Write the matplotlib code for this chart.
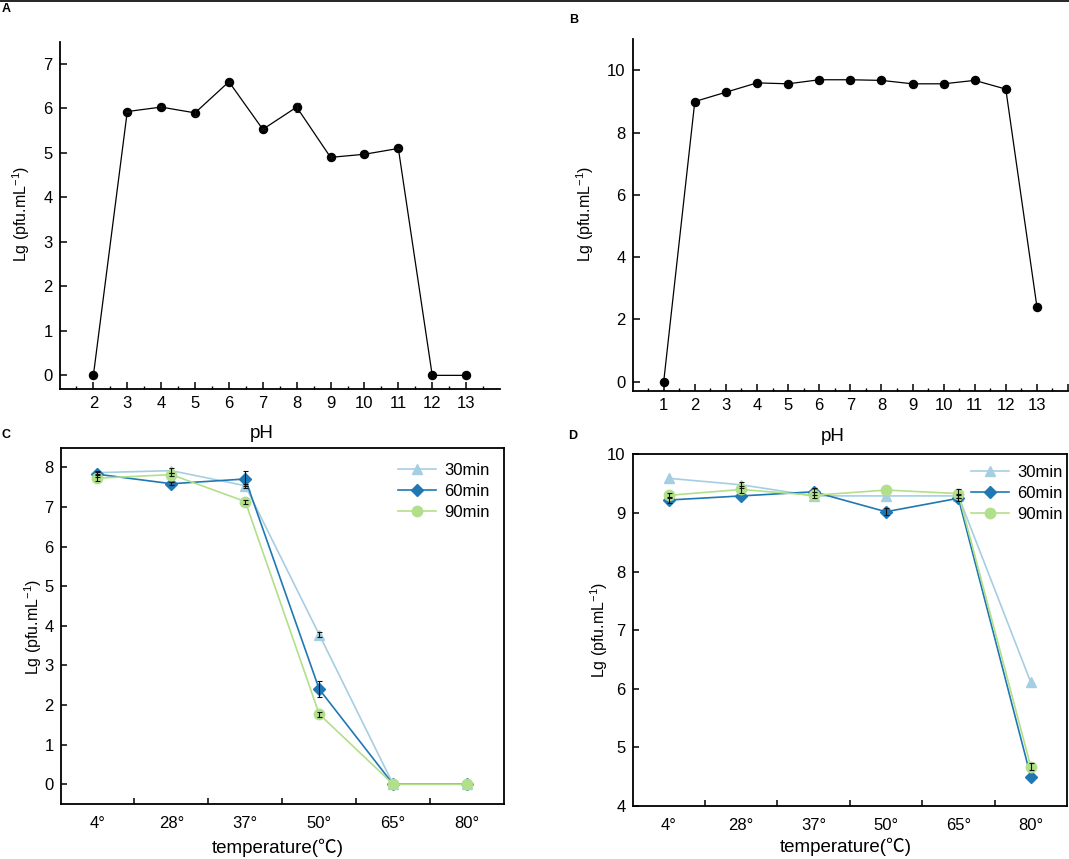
import numpy as np
import matplotlib
matplotlib.use('Agg')
import matplotlib.pyplot as plt
from matplotlib.lines import Line2D

plt.rcParams['font.family'] = ['Liberation Sans', 'DejaVu Sans']
plt.rcParams['mathtext.fontset'] = 'custom'
plt.rcParams['mathtext.rm'] = 'Liberation Sans'
plt.rcParams['mathtext.it'] = 'Liberation Sans:italic'
plt.rcParams['mathtext.bf'] = 'Liberation Sans:bold'

# ---------------- data ----------------
ph_a = [2, 3, 4, 5, 6, 7, 8, 9, 10, 11, 12, 13]
lg_a = [0, 5.93, 6.03, 5.90, 6.60, 5.53, 6.03, 4.90, 4.97, 5.10, 0, 0]
err_a = [0, 0.02, 0.02, 0.08, 0.02, 0.02, 0.10, 0.02, 0.02, 0.02, 0, 0]

ph_b = [1, 2, 3, 4, 5, 6, 7, 8, 9, 10, 11, 12, 13]
lg_b = [0, 9.00, 9.30, 9.60, 9.57, 9.70, 9.70, 9.68, 9.57, 9.57, 9.68, 9.40, 2.41]

temps = ['4°', '28°', '37°', '50°', '65°', '80°']
series_names = ['30min', '60min', '90min']

c_30 = [7.87, 7.92, 7.54, 3.78, 0, 0]
c_60 = [7.83, 7.59, 7.71, 2.40, 0, 0]
c_90 = [7.73, 7.82, 7.14, 1.77, 0, 0]
c_30_err = [0.03, 0.06, 0.05, 0.06, 0, 0]
c_60_err = [0.06, 0.04, 0.19, 0.20, 0, 0]
c_90_err = [0.07, 0.03, 0.05, 0.06, 0, 0]

d_30 = [9.59, 9.48, 9.29, 9.29, 9.29, 6.11]
d_60 = [9.22, 9.29, 9.36, 9.02, 9.25, 4.50]
d_90 = [9.30, 9.40, 9.30, 9.39, 9.33, 4.67]
d_30_err = [0, 0.05, 0, 0, 0.03, 0]
d_60_err = [0.05, 0, 0.06, 0.06, 0.05, 0]
d_90_err = [0.04, 0.06, 0.05, 0, 0.08, 0.06]

colors = ['#a6cee3', '#1f78b4', '#b2df8a']
markers = ['^', 'D', 'o']
msizes = [7.5, 6.5, 7.5]

ylab = 'Lg (pfu.mL$^{-1}$)'
tick_fs = 12
xlab_fs = 13.5

fig = plt.figure(figsize=(10.69, 8.59), dpi=100)
W, H = 1069.0, 859.0


def add_ax(l, t, r, b):
    return fig.add_axes([l / W, 1 - b / H, (r - l) / W, (b - t) / H])


def errs(ax, x, y, e):
    x = np.asarray(x, float); y = np.asarray(y, float); e = np.asarray(e, float)
    m = e > 0
    ax.errorbar(x[m], y[m], yerr=e[m], fmt='none', ecolor='#111111',
                elinewidth=0.8, capsize=1.8, capthick=0.8, zorder=6)


def ph_panel(ax, x, y, xlim, ylim, yt, xt, xminor):
    ax.plot(x, y, color='black', lw=0.9, marker='o', ms=5.8, zorder=4)
    ax.set_xlim(*xlim)
    ax.set_ylim(*ylim)
    for s in ['top', 'right']:
        ax.spines[s].set_visible(False)
    for s in ['left', 'bottom']:
        ax.spines[s].set_linewidth(1.3)
    ax.set_yticks(yt)
    ax.set_xticks(xt)
    ax.set_xticks(xminor, minor=True)
    ax.tick_params(axis='both', which='major', direction='in', length=5,
                   width=1.1, labelsize=tick_fs, pad=5)
    ax.tick_params(axis='x', which='minor', direction='in', length=2.5, width=1.0)
    ax.tick_params(axis='y', which='minor', left=False)
    ax.set_xlabel('pH', fontsize=xlab_fs)
    ax.set_ylabel(ylab, fontsize=11.5)
    ax.xaxis.label.set_va('center')
    ax.yaxis.label.set_va('center')


# ---------------- A ----------------
axA = add_ax(59.5, 41.7, 500, 388.7)
ph_panel(axA, ph_a, lg_a, (1, 14), (-0.3, 7.5), range(0, 8), range(2, 14),
         np.arange(1.5, 14, 1))
errs(axA, ph_a, lg_a, err_a)
axA.xaxis.set_label_coords((262 - 59.5) / 440.5, (388.7 - 434) / 347)
axA.yaxis.set_label_coords((21 - 59.5) / 440.5, 0.505)

# ---------------- B ----------------
axB = add_ax(632.6, 39.3, 1068, 391)
ph_panel(axB, ph_b, lg_b, (0, 14), (-0.3, 11), range(0, 11, 2), range(1, 14),
         np.arange(0.5, 14, 1))
axB.set_xticks(list(range(1, 15)))
axB.set_xticklabels([str(i) for i in range(1, 14)] + [''])
axB.xaxis.set_label_coords((833 - 632.6) / 435.4, (391 - 437) / 351.7)
axB.yaxis.set_label_coords((585 - 632.6) / 435.4, 0.505)


# ---------------- C / D ----------------
def temp_panel(ax, data, errors, ylim, yt, leg_anchor):
    xi = np.arange(len(temps))
    handles = []
    for k in range(3):
        h, = ax.plot(xi, data[k], color=colors[k], lw=1.2, marker=markers[k],
                     ms=msizes[k], mec=colors[k], zorder=3 + k * 0.1,
                     label=series_names[k])
        handles.append(h)
    for k in range(3):
        errs(ax, xi, data[k], errors[k])
    ax.set_xlim(-0.5, len(temps) - 0.5)
    ax.set_ylim(*ylim)
    ax.set_yticks(yt)
    ax.set_xticks(xi)
    ax.set_xticklabels(temps)
    ax.set_xticks(np.arange(0.5, len(temps) - 1, 1), minor=True)
    for s in ax.spines.values():
        s.set_linewidth(1.3)
    ax.tick_params(axis='x', which='major', length=0, labelsize=tick_fs, pad=9)
    ax.tick_params(axis='x', which='minor', direction='in', length=4, width=1.1)
    ax.tick_params(axis='y', which='major', direction='in', length=4.5, width=1.1,
                   labelsize=tick_fs, pad=5)
    ax.tick_params(axis='y', which='minor', left=False)
    ax.set_xlabel('temperature(℃)', fontsize=xlab_fs,
                  family=['Liberation Sans', 'Noto Sans CJK SC'])
    ax.set_ylabel(ylab, fontsize=11.5)
    ax.xaxis.label.set_va('center')
    ax.yaxis.label.set_va('center')
    ax.legend(handles=handles, loc='upper right', bbox_to_anchor=leg_anchor,
              frameon=False, fontsize=tick_fs, handlelength=2.3,
              handletextpad=0.5, labelspacing=0.36, borderaxespad=0,
              borderpad=0)


axC = add_ax(60.5, 447.7, 504, 804)
temp_panel(axC, [c_30, c_60, c_90], [c_30_err, c_60_err, c_90_err],
           (-0.5, 8.5), range(0, 9), ((490 - 60.5) / 443.5, (804 - 463) / 356.3))
axC.xaxis.set_label_coords((278 - 60.5) / 443.5, (804 - 848) / 356.3)
axC.yaxis.set_label_coords((32.7 - 60.5) / 443.5, 0.497)

axD = add_ax(632.6, 454.3, 1067, 806)
temp_panel(axD, [d_30, d_60, d_90], [d_30_err, d_60_err, d_90_err],
           (4, 10), range(4, 11), ((1063 - 632.6) / 434.4, (806 - 465) / 351.7))
axD.xaxis.set_label_coords((845.4 - 632.6) / 434.4, (806 - 847) / 351.7)
axD.yaxis.set_label_coords((599 - 632.6) / 434.4, 0.5)

# panel letters
for lab, x, y in [('A', 2, 9), ('B', 569, 20), ('C', 2, 434.5), ('D', 568, 436)]:
    fig.text(x / W, 1 - y / H, lab, fontsize=9, fontweight='bold',
             ha='left', va='center')

# top border line
fig.add_artist(Line2D([0, 1], [1 - 0.8 / H, 1 - 0.8 / H], transform=fig.transFigure,
                      color='black', lw=1.2))

fig.savefig('out.png', dpi=100)
